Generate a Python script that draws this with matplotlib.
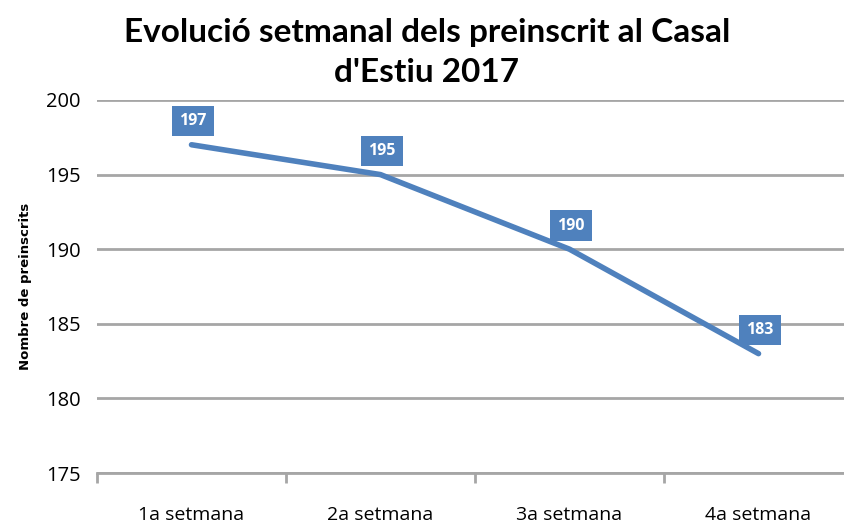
import matplotlib.pyplot as plt

setmanes = ['1a setmana', '2a setmana', '3a setmana', '4a setmana']
preinscrits = [197, 195, 190, 183]
y_ticks = [175, 180, 185, 190, 195, 200]

blau = '#4f81bd'
gris = '#a6a6a6'

fig = plt.figure(figsize=(8.45, 5.23), dpi=100)
ax = fig.add_axes([0.1148, 0.0956, 0.8947, 0.7132])

x = list(range(len(setmanes)))
ax.plot(x, preinscrits, color=blau, linewidth=4, solid_capstyle='round',
        solid_joinstyle='round', zorder=3)

# etiquetes de dades
for xi, v in zip(x, preinscrits):
    ax.annotate(str(v), (xi, v), xytext=(1, 17), textcoords='offset points',
                ha='center', va='center', fontsize=11.5, fontweight='bold', color='white',
                family='Open Sans',
                bbox=dict(boxstyle='square,pad=0.45', fc=blau, ec='none'), zorder=4)

ax.set_xlim(-0.5, len(setmanes) - 0.5)
ax.set_ylim(175, 200)
ax.set_yticks(y_ticks)
ax.set_xticks(x)
ax.set_xticklabels(setmanes, fontsize=14, family='Open Sans')
ax.set_xticks([i - 0.5 for i in range(len(setmanes) + 1)], minor=True)
ax.tick_params(axis='x', which='major', length=0, pad=24)
ax.tick_params(axis='x', which='minor', length=7, width=2, color=gris)
ax.tick_params(axis='y', length=0, pad=12, labelsize=14.5)
for lab in ax.get_yticklabels():
    lab.set_family('Open Sans')

ax.yaxis.grid(True, color=gris, linewidth=2)
ax.set_axisbelow(True)
for s in ['top', 'right', 'left']:
    ax.spines[s].set_visible(False)
ax.spines['bottom'].set_color(gris)
ax.spines['bottom'].set_linewidth(2)

ax.set_ylabel('Nombre de preinscrits', fontsize=9.5, fontweight='bold', labelpad=10)

fig.suptitle("Evolució setmanal dels preinscrit al Casal\nd'Estiu 2017", x=0.505, y=0.965,
             fontsize=24, fontweight='bold', family='Lato', linespacing=1.45)

fig.savefig('out.png', dpi=100)
